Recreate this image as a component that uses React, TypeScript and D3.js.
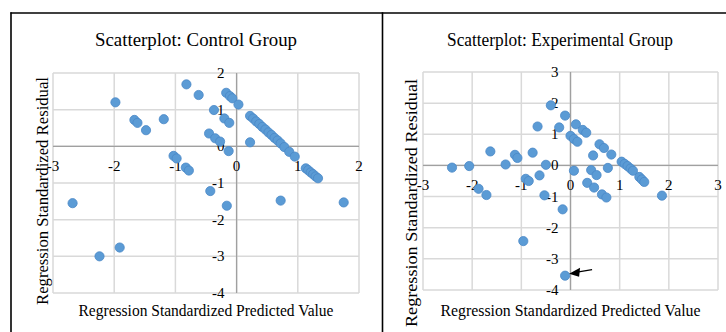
import React from 'react';
import {scaleLinear, range} from 'd3';

// valeurs (x = valeur prédite, y = résidu)
const controlX = [
  -1.98, -0.82, -0.62, -1.67, -1.62, -1.48, -1.19, -1.03, -0.98, -0.83, -0.78,
  -0.17, -0.11, -0.07, 0.03, -0.37, -0.2, -0.12, -0.45, -0.35, -0.27, -0.13, 0.22,
  0.22, 0.27, 0.32, 0.37, 0.42, 0.47, 0.52, 0.57, 0.62, 0.67, 0.72, 0.78, 0.86, 0.95,
  1.13, 1.17, 1.21, 1.25, 1.29, 1.33,
  -2.68, -2.24, -1.91, -0.43, -0.16, 0.72, 1.75
];
const controlY = [
  1.2, 1.69, 1.4, 0.72, 0.64, 0.44, 0.74, -0.26, -0.33, -0.58, -0.66,
  1.46, 1.37, 1.31, 1.14, 0.99, 0.76, 0.64, 0.35, 0.22, 0.13, -0.13, 0.11,
  0.83, 0.76, 0.68, 0.61, 0.53, 0.46, 0.38, 0.31, 0.23, 0.16, 0.08, -0.02, -0.15, -0.28,
  -0.6, -0.65, -0.71, -0.76, -0.82, -0.87,
  -1.55, -3.0, -2.76, -1.22, -1.62, -1.48, -1.53
];

const expX = [
  -2.41, -2.06, -1.63, -1.32, -1.13, -1.08, -0.77, -0.5, -0.67, -0.4, -0.23, -0.11,
  0.0, 0.07, 0.14, -0.91, -0.85, -0.63, -1.87, -1.71, -0.53, 0.11, 0.25, 0.32,
  0.59, 0.68, 0.83, 0.46, 0.76, 0.07, 0.42, 0.53, 0.34, 0.48, 0.64, 0.73,
  1.04, 1.1, 1.16, 1.22, 1.27, 1.4, 1.45, 1.5, 1.86, -0.16, -0.96, -0.11
];
const expY = [
  -0.07, -0.02, 0.45, 0.03, 0.34, 0.24, 0.41, 0.02, 1.25, 1.93, 1.22, 1.6,
  0.95, 0.85, 0.76, -0.43, -0.5, -0.32, -0.75, -0.95, -0.96, 1.32, 1.14, 1.05,
  0.68, 0.56, 0.35, 0.32, -0.08, -0.17, -0.15, -0.31, -0.56, -0.71, -0.93, -1.03,
  0.12, 0.05, -0.02, -0.1, -0.17, -0.37, -0.45, -0.53, -0.97, -1.41, -2.43, -3.54
];

const controlXTicks = [-3, -2, -1, 0, 1, 2];
const controlYTicks = [-4, -3, -2, -1, 0, 1, 2];
const expXTicks = [-3, -2, -1, 0, 1, 2, 3];
const expYTicks = [-4, -3, -2, -1, 0, 1, 2, 3];

const titles = ['Scatterplot: Control Group', 'Scatterplot: Experimental Group'];
const xTitle = 'Regression Standardized Predicted Value';
const yTitle = 'Regression Standardized Residual';

const FONT = 'Liberation Serif, Times New Roman, DejaVu Serif, serif';

function Panel({xs, ys, xTicks, yTicks, title, box, arrowIndex}) {
  const x = scaleLinear().domain([xTicks[0], xTicks[xTicks.length - 1]]).range([box.left, box.right]);
  const y = scaleLinear().domain([yTicks[0], yTicks[yTicks.length - 1]]).range([box.bottom, box.top]);
  const pts = range(xs.length).map(i => ({x: xs[i], y: ys[i]}));

  let arrow = null;
  if (arrowIndex != null) {
    const p = pts[arrowIndex];
    const hx = x(p.x) + 4;
    const hy = y(p.y) - 2;
    arrow = (
      <g>
        <line x1={hx + 8} y1={hy - 1.5} x2={hx + 23} y2={hy - 4} stroke="#000" strokeWidth={1.3} />
        <path d={`M${hx},${hy} L${hx + 11},${hy - 6} L${hx + 10},${hy + 3} Z`} fill="#000" />
      </g>
    );
  }

  return (
    <g style={{fontFamily: FONT}}>
      <text x={box.titleX} y={46} textAnchor="middle" fontSize={18.5} fill="#000"
        textLength={box.titleW} lengthAdjust="spacingAndGlyphs">
        {title}
      </text>
      {xTicks.map(t => (
        <line key={'gx' + t} x1={x(t)} x2={x(t)} y1={box.top} y2={box.bottom} stroke="#d9d9d9" strokeWidth={1.5} />
      ))}
      {yTicks.map(t => (
        <line key={'gy' + t} x1={box.left} x2={box.right} y1={y(t)} y2={y(t)} stroke="#d9d9d9" strokeWidth={1.5} />
      ))}
      <line x1={x(0)} x2={x(0)} y1={box.top} y2={box.bottom} stroke="#a0a0a0" strokeWidth={1.3} />
      <line x1={box.left} x2={box.right} y1={y(0)} y2={y(0)} stroke="#a0a0a0" strokeWidth={1.3} />
      {xTicks.map(t => (
        <text key={'tx' + t} x={x(t)} y={y(0) + 25} textAnchor="middle" fontSize={15} fill="#000">
          {t}
        </text>
      ))}
      {yTicks.map(t => (
        <text key={'ty' + t} x={x(0) - 12} y={y(t) + 5} textAnchor="end" fontSize={15} fill="#000">
          {t}
        </text>
      ))}
      {pts.map((d, i) => (
        <circle key={i} cx={x(d.x)} cy={y(d.y)} r={4.6} fill="#5b9bd5" stroke="#4a88c7" strokeWidth={0.8} />
      ))}
      {arrow}
      <text x={(box.left + box.right) / 2} y={316} textAnchor="middle" fontSize={17} fill="#000"
        textLength={box.xTitleW} lengthAdjust="spacingAndGlyphs">
        {xTitle}
      </text>
      <text transform={`translate(${box.yTitleX},${box.yTitleY}) rotate(-90)`} textAnchor="middle" fontSize={17}
        fill="#000" textLength={box.yTitleW} lengthAdjust="spacingAndGlyphs">
        {yTitle}
      </text>
    </g>
  );
}

export default function App() {
  const width = 726;
  const height = 332;

  const leftBox = {left: 53, right: 359, top: 73, bottom: 293, titleX: 196, titleW: 202, xTitleW: 255, yTitleX: 48, yTitleY: 191, yTitleW: 228};
  const rightBox = {left: 423, right: 718, top: 72, bottom: 290, titleX: 560, titleW: 226, xTitleW: 260, yTitleX: 417, yTitleY: 203, yTitleW: 248};

  return (
    <svg width={width} height={height} style={{position: 'absolute', left: 0, top: 0, background: '#fff'}}>
      <rect x={0} y={0} width={width} height={height} fill="#fff" />
      <line x1={10.5} x2={width} y1={13} y2={13} stroke="#000" strokeWidth={1.6} />
      <line x1={11} x2={11} y1={12.2} y2={height} stroke="#000" strokeWidth={1.6} />
      <line x1={382.5} x2={382.5} y1={12.2} y2={height} stroke="#000" strokeWidth={1.6} />
      <Panel xs={controlX} ys={controlY} xTicks={controlXTicks} yTicks={controlYTicks} title={titles[0]} box={leftBox} />
      <Panel xs={expX} ys={expY} xTicks={expXTicks} yTicks={expYTicks} title={titles[1]} box={rightBox}
        arrowIndex={expX.length - 1} />
    </svg>
  );
}
